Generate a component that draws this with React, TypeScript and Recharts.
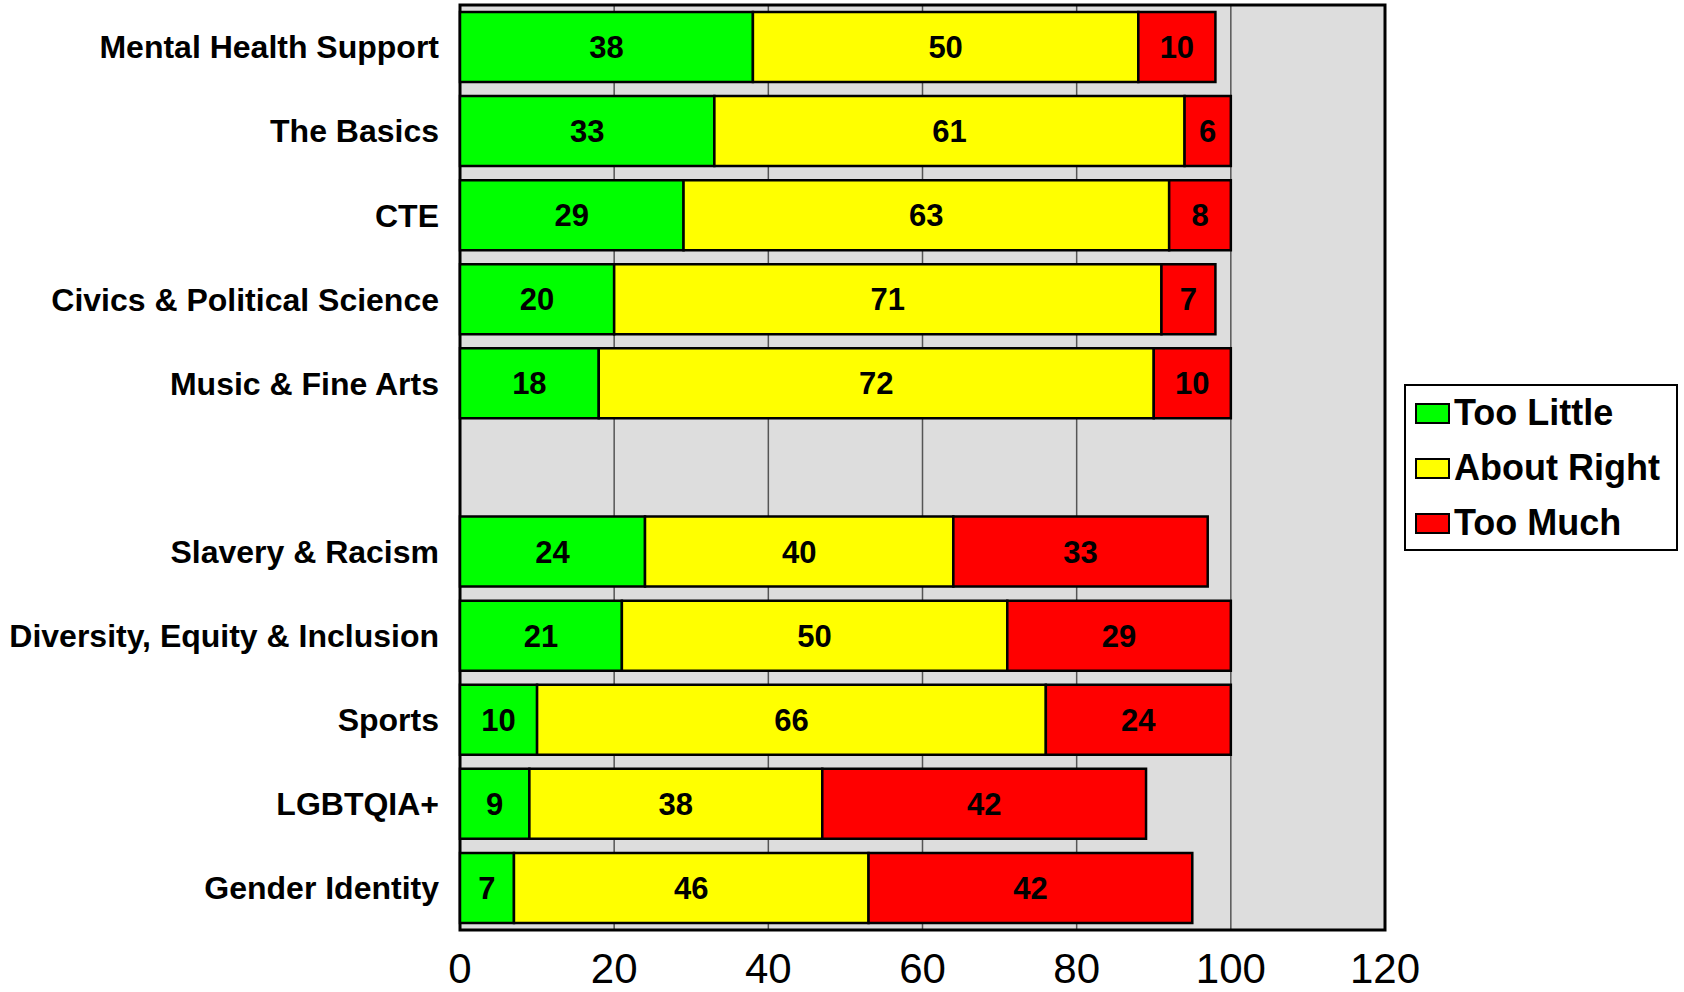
import {
  BarChart,
  Bar,
  XAxis,
  YAxis,
  CartesianGrid,
  LabelList,
  Legend,
  ReferenceArea,
} from "recharts";

// topics, top to bottom; the empty one is the spacer row between the two groups
const topics = [
  "Mental Health Support",
  "The Basics",
  "CTE",
  "Civics & Political Science",
  "Music & Fine Arts",
  "",
  "Slavery & Racism",
  "Diversity, Equity & Inclusion",
  "Sports",
  "LGBTQIA+",
  "Gender Identity",
];

const tooLittle = [38, 33, 29, 20, 18, null, 24, 21, 10, 9, 7];
const aboutRight = [50, 61, 63, 71, 72, null, 40, 50, 66, 38, 46];
const tooMuch = [10, 6, 8, 7, 10, null, 33, 29, 24, 42, 42];

const xTicks = [0, 20, 40, 60, 80, 100, 120];

const FONT = '"Liberation Sans", Arial, Helvetica, sans-serif';

const series = [
  { key: "tooLittle", name: "Too Little", color: "#00FF00" },
  { key: "aboutRight", name: "About Right", color: "#FFFF00" },
  { key: "tooMuch", name: "Too Much", color: "#FF0000" },
];

const data = topics.map((name, i) => ({
  name,
  tooLittle: tooLittle[i],
  aboutRight: aboutRight[i],
  tooMuch: tooMuch[i],
}));

function LegendBox() {
  return (
    <div
      style={{
        position: "relative",
        width: 270,
        height: 163,
        border: "2px solid #000",
        background: "#fff",
        fontFamily: FONT,
        fontWeight: "bold",
        fontSize: 36,
        boxSizing: "content-box",
      }}
    >
      {series.map((s, i) => (
        <div
          key={s.key}
          style={{
            position: "absolute",
            left: 9,
            top: 27 + i * 55 - 20,
            height: 40,
            display: "flex",
            alignItems: "center",
            whiteSpace: "nowrap",
          }}
        >
          <span
            style={{
              display: "inline-block",
              width: 31,
              height: 17,
              background: s.color,
              border: "2px solid #000",
              marginRight: 4,
            }}
          />
          <span>{s.name}</span>
        </div>
      ))}
    </div>
  );
}

export default function App() {
  return (
    <div style={{ position: "absolute", left: 0, top: 0, background: "#fff" }}>
      <BarChart
        width={1684}
        height={992}
        data={data}
        layout="vertical"
        margin={{ top: 5, right: 299, bottom: 0, left: 0 }}
        barSize={70}
      >
        <CartesianGrid
          horizontal={false}
          fill="#DDDDDD"
          stroke="#555"
          strokeWidth={1.5}
        />
        <XAxis
          type="number"
          domain={[0, 120]}
          ticks={xTicks}
          height={62}
          axisLine={false}
          tickLine={false}
          tickMargin={17}
          tick={{ fill: "#000", fontSize: 42, fontFamily: FONT }}
        />
        <YAxis
          type="category"
          dataKey="name"
          width={460}
          axisLine={false}
          tickLine={false}
          tickMargin={15}
          interval={0}
          tick={{ fill: "#000", fontSize: 32, fontWeight: "bold", fontFamily: FONT }}
        />
        {series.map((s) => (
          <Bar
            key={s.key}
            dataKey={s.key}
            name={s.name}
            stackId="a"
            fill={s.color}
            stroke="#000"
            strokeWidth={2.5}
            isAnimationActive={false}
          >
            <LabelList
              dataKey={s.key}
              position="center"
              fill="#000"
              fontSize={31}
              fontWeight="bold"
              fontFamily={FONT}
            />
          </Bar>
        ))}
        <ReferenceArea
          x1={0}
          x2={120}
          fill="none"
          stroke="#000"
          strokeWidth={3}
          ifOverflow="visible"
        />
        <Legend
          layout="vertical"
          align="center"
          verticalAlign="middle"
          wrapperStyle={{ left: 1404, top: 384, width: 274, height: 167 }}
          content={() => <LegendBox />}
        />
      </BarChart>
    </div>
  );
}
